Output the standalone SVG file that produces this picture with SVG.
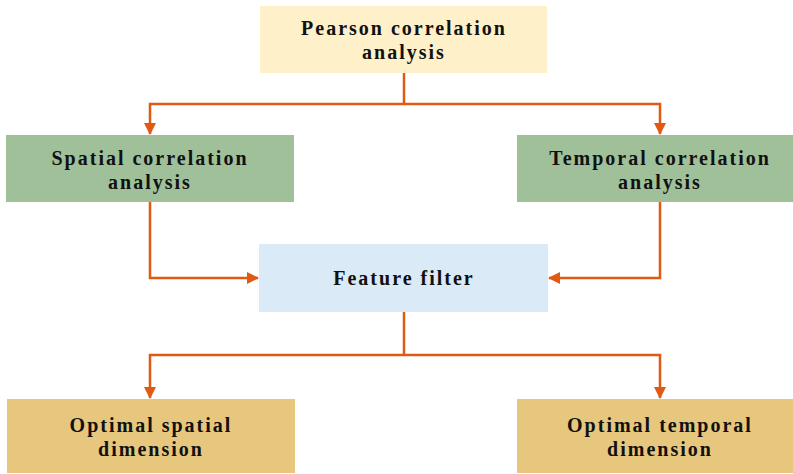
<svg xmlns="http://www.w3.org/2000/svg" width="793" height="474" viewBox="0 0 793 474">
  <style>
    .lbl { font-family: "Liberation Serif", "Times New Roman", serif; font-weight: bold; font-size: 20px; letter-spacing: 2px; fill: #111; text-anchor: middle; }
    .wire { fill: none; stroke: #E05A13; stroke-width: 2.5; }
    .yellow { fill: #FEF0C9; }
    .green { fill: #A0C09A; }
    .blue { fill: #DAEAF6; }
    .gold { fill: #E6C77D; }
  </style>
  <defs>
    <marker id="arrow" markerWidth="12" markerHeight="12" refX="11" refY="6" orient="auto" markerUnits="userSpaceOnUse">
      <path d="M0,0 L12,6 L0,12 Z" fill="#E05A13"/>
    </marker>
  </defs>
  <rect width="793" height="474" fill="#ffffff"/>

  <g id="connectors">
    <path class="wire" d="M404,73 V104"/>
    <path class="wire" d="M404,104 H150 V134" marker-end="url(#arrow)"/>
    <path class="wire" d="M404,104 H660 V134" marker-end="url(#arrow)"/>
    <path class="wire" d="M150,202 V278 H258" marker-end="url(#arrow)"/>
    <path class="wire" d="M660,202 V278 H549" marker-end="url(#arrow)"/>
    <path class="wire" d="M404,312 V355"/>
    <path class="wire" d="M404,355 H150 V398" marker-end="url(#arrow)"/>
    <path class="wire" d="M404,355 H660 V398" marker-end="url(#arrow)"/>
  </g>

  <g id="pearson">
    <rect class="yellow" x="260" y="6" width="287" height="67"/>
    <text class="lbl" x="404" y="35">Pearson correlation</text>
    <text class="lbl" x="404" y="59">analysis</text>
  </g>

  <g id="spatial">
    <rect class="green" x="6" y="135" width="288" height="67"/>
    <text class="lbl" x="150" y="165">Spatial correlation</text>
    <text class="lbl" x="150" y="189">analysis</text>
  </g>

  <g id="temporal">
    <rect class="green" x="517" y="135" width="276" height="67"/>
    <text class="lbl" x="660" y="165">Temporal correlation</text>
    <text class="lbl" x="660" y="189">analysis</text>
  </g>

  <g id="feature-filter">
    <rect class="blue" x="259" y="244" width="289" height="68"/>
    <text class="lbl" x="404" y="285">Feature filter</text>
  </g>

  <g id="optimal-spatial">
    <rect class="gold" x="7" y="399" width="288" height="74"/>
    <text class="lbl" x="151" y="432">Optimal spatial</text>
    <text class="lbl" x="151" y="456">dimension</text>
  </g>

  <g id="optimal-temporal">
    <rect class="gold" x="517" y="399" width="276" height="74"/>
    <text class="lbl" x="660" y="432">Optimal temporal</text>
    <text class="lbl" x="660" y="456">dimension</text>
  </g>
</svg>
